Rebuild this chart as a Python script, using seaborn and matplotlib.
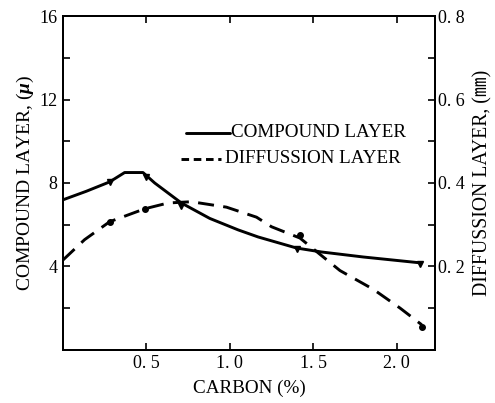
import matplotlib
matplotlib.use("Agg")
import matplotlib.pyplot as plt
import seaborn as sns
import pandas as pd
from matplotlib.ticker import FixedLocator

sns.set_theme(style="white")
plt.rcParams['font.family'] = ['Liberation Serif', 'Noto Sans CJK JP', 'DejaVu Sans']
plt.rcParams['mathtext.fontset'] = 'custom'
plt.rcParams['mathtext.it'] = 'Liberation Serif:italic:bold'
plt.rcParams['mathtext.rm'] = 'Liberation Serif'

# Compound layer thickness (μ) vs carbon (%)
comp_x = [0.0, 0.14, 0.28, 0.37, 0.48, 0.55, 0.71, 0.88, 1.05, 1.17, 1.40, 1.55, 1.80, 2.14]
comp_y = [7.19, 7.6, 8.05, 8.5, 8.5, 8.0, 7.04, 6.3, 5.75, 5.41, 4.88, 4.69, 4.45, 4.17]
comp_mx = [0.28, 0.50, 0.71, 1.40, 2.14]
comp_my = [8.05, 8.3, 6.9, 4.85, 4.1]

# Diffusion layer depth (mm) vs carbon (%)
diff_x = [0.0, 0.13, 0.28, 0.49, 0.63, 0.77, 0.98, 1.16, 1.25, 1.42, 1.66, 1.86, 2.02, 2.15]
diff_y = [0.215, 0.264, 0.307, 0.338, 0.352, 0.355, 0.342, 0.318, 0.295, 0.268, 0.19, 0.145, 0.10, 0.06]
diff_mx = [0.28, 0.49, 1.42, 2.15]
diff_my = [0.307, 0.338, 0.275, 0.055]

fig = plt.figure(figsize=(4.95, 4.03), dpi=100)
ax = fig.add_axes([0.127, 0.132, 0.752, 0.828])
ax2 = ax.twinx()

df_c = pd.DataFrame({"x": comp_x, "y": comp_y})
df_d = pd.DataFrame({"x": diff_x, "y": diff_y})

sns.lineplot(data=df_c, x="x", y="y", ax=ax, color="black", lw=2.1, sort=False)
ax.plot(comp_mx, comp_my, "v", color="black", ms=4.5, ls="none")
sns.lineplot(data=df_d, x="x", y="y", ax=ax2, color="black", lw=2.1, sort=False)
for ln in ax2.get_lines():
    ln.set_dashes((5.5, 3.2))
ax2.plot(diff_mx, diff_my, "o", color="black", ms=4, ls="none")

ax.set_xlim(0, 2.23)
ax.set_ylim(0, 16)
ax2.set_ylim(0, 0.8)

ax.xaxis.set_major_locator(FixedLocator([0.5, 1.0, 1.5, 2.0]))
ax.set_xticklabels(["0. 5", "1. 0", "1. 5", "2. 0"])
ax.yaxis.set_major_locator(FixedLocator([4, 8, 12, 16]))
ax.yaxis.set_minor_locator(FixedLocator([2, 6, 10, 14]))
ax.set_yticklabels(["4", "8", "12", "16"])
ax2.yaxis.set_major_locator(FixedLocator([0.2, 0.4, 0.6, 0.8]))
ax2.yaxis.set_minor_locator(FixedLocator([0.1, 0.3, 0.5, 0.7]))
ax2.set_yticklabels(["0. 2", "0. 4", "0. 6", "0. 8"])

ax.tick_params(axis="both", which="both", direction="in", length=5, width=1.2,
               labelsize=13, colors="black", pad=4)
ax.tick_params(axis="y", which="both", left=True, right=False)
ax.tick_params(axis="x", which="both", bottom=True, top=True)
ax2.tick_params(axis="y", which="both", direction="in", length=5, width=1.2,
                labelsize=13, colors="black", right=True, left=False, pad=2)

for a in (ax, ax2):
    for s in a.spines.values():
        s.set_visible(True)
        s.set_color("black")
        s.set_linewidth(1.4)

ax.set_xlabel("CARBON (%)", fontsize=13.8, color="black", labelpad=5)
ax.set_ylabel("COMPOUND LAYER, ($\\mathit{\\mu}$)", fontsize=14, color="black", labelpad=2)
ax2.set_ylabel("DIFFUSSION LAYER, (㎜)", fontsize=14.2, color="black", labelpad=6)

# legend
ax.plot([0.74, 1.0], [10.4, 10.4], color="black", lw=2.1)
ax.text(1.01, 10.4, "COMPOUND LAYER", fontsize=13.7, va="center", ha="left", color="black")
ax.plot([0.71, 0.95], [9.15, 9.15], color="black", lw=2.1, dashes=(2.6, 1.6))
ax.text(0.97, 9.15, "DIFFUSSION LAYER", fontsize=13.7, va="center", ha="left", color="black")

fig.savefig("out.png", dpi=100)
